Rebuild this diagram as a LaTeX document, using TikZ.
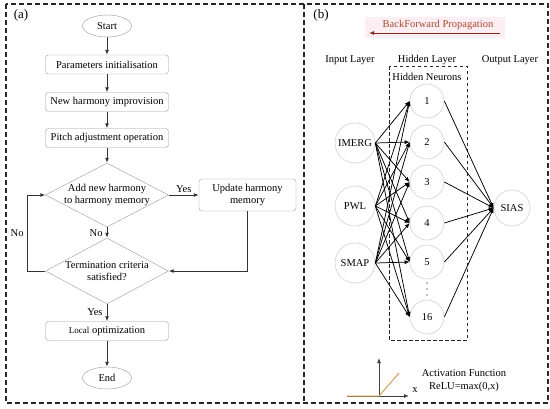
\documentclass[tikz,border=0pt]{standalone}
\usepackage{fontspec}
\setmainfont{Liberation Serif}
\usetikzlibrary{arrows.meta,shapes.geometric}
\definecolor{boxgray}{gray}{0.6}
\definecolor{circgray}{gray}{0.84}
\definecolor{bfred}{RGB}{165,75,45}
\definecolor{bfarrow}{RGB}{140,40,20}
\definecolor{bfpink}{RGB}{253,238,244}
\definecolor{relu}{RGB}{210,160,80}
\begin{document}
\begin{tikzpicture}[x=1pt,y=-1pt,
  font=\fontsize{10.5}{12}\selectfont,
  frame/.style={draw=black!85, line width=1.1pt, dash pattern=on 5pt off 3pt},
  panellabel/.style={font=\fontsize{13}{15}\selectfont},
  procbox/.style={draw=boxgray, rounded corners=3pt, minimum width=123pt, minimum height=19pt, inner sep=0pt, align=center},
  term/.style={ellipse, draw=boxgray, minimum width=49pt, minimum height=22pt, inner sep=0pt},
  decision/.style={diamond, draw=boxgray, aspect=2, inner sep=-4pt, minimum width=123pt, minimum height=64pt, align=center},
  arr/.style={draw=black!80, line width=0.9pt, -{Latex[length=5pt,width=4pt]}},
  neuron/.style={circle, draw=circgray, line width=0.7pt, minimum size=34pt, inner sep=0pt},
  inneuron/.style={circle, draw=circgray, line width=0.7pt, minimum size=40pt, inner sep=0pt},
  nnarr/.style={draw=black, line width=0.75pt, -{Latex[length=5pt,width=4pt]}},
  dotmark/.style={circle, fill=black!50, inner sep=0pt, minimum size=1.6pt}
]
\useasboundingbox (0,0) rectangle (550,408);

% frames
\draw[frame] (6,4) rectangle (548,403);
\draw[frame] (304,4) -- (304,403);
\node[panellabel] (la) at (21,15) {(a)};
\node[panellabel] (lb) at (321,15) {(b)};

% ---------- flowchart ----------
\node[term] (start) at (107,26) {Start};
\node[procbox] (p1) at (107,64.5) {Parameters initialisation};
\node[procbox] (p2) at (107,102) {New harmony improvision};
\node[procbox] (p3) at (107,138) {Pitch adjustment operation};
\node[decision] (d1) at (107,195) {Add new harmony\\to harmony memory};
\node[procbox, minimum width=97pt, minimum height=32pt] (upd) at (247.5,195) {Update harmony\\memory};
\node[decision, minimum height=66pt] (d2) at (107,271) {Termination criteria\\satisfied?};
\node[procbox] (p4) at (107,331) {{\fontsize{9}{11}\selectfont Local} optimization};
\node[term] (end) at (107,378) {End};
\coordinate (loopl) at (27,0);

\draw[arr] (start) -- (p1);
\draw[arr] (p1) -- (p2);
\draw[arr] (p2) -- (p3);
\draw[arr] (p3) -- (d1);
\draw[arr] (d1.east) -- node[above, inner sep=2pt] {Yes} (upd.west);
\draw[arr] (d1.south) -- node[left, pos=0.55, inner sep=4pt] {No} (d2.north);
\draw[arr] (upd.south) |- (d2.east);
\draw[arr] (d2.west) -- (d2.west -| loopl) -- node[left, inner sep=3pt] {No} (d1.west -| loopl) -- (d1.west);
\draw[arr] (d2.south) -- node[left, pos=0.45, inner sep=4pt] {Yes} (p4.north);
\draw[arr] (p4) -- (end);

% ---------- neural network ----------
\fill[bfpink] (365,17) rectangle (505,38);
\node[text=bfred] (bftext) at (438,24.5) {BackForward Propagation};
\coordinate (bfr) at (500,33);
\coordinate (bfl) at (369,33);
\draw[draw=bfarrow, line width=1pt, -{Latex[length=5pt,width=4pt]}] (bfr) -- (bfl);

\node (inl) at (350,60) {Input Layer};
\node (hidl) at (427,60) {Hidden Layer};
\node (outl) at (510,60) {Output Layer};
\draw[draw=black!85, line width=0.9pt, dash pattern=on 3.5pt off 2.5pt] (389,66) rectangle (467,340);
\node (hn) at (427,77) {Hidden Neurons};

\node[inneuron] (imerg) at (355,143) {IMERG};
\node[inneuron] (pwl) at (355,206) {PWL};
\node[inneuron] (smap) at (355,263) {SMAP};

\node[neuron] (h1) at (427,101) {1};
\node[neuron] (h2) at (427,142) {2};
\node[neuron] (h3) at (427,182) {3};
\node[neuron] (h4) at (427,223) {4};
\node[neuron] (h5) at (427,262) {5};
\node[neuron] (h16) at (427,317) {16};
\node[dotmark] (dt1) at (427,283) {};
\node[dotmark] (dt2) at (427,289) {};
\node[dotmark] (dt3) at (427,295) {};

\node[neuron, minimum size=36pt] (sias) at (512,208) {SIAS};

\foreach \i in {imerg,pwl,smap}{
  \foreach \h in {h1,h2,h3,h4,h5,h16}{
    \draw[nnarr] (\i.east) -- (\h.west);
  }
}
\foreach \h in {h1,h2,h3,h4,h5,h16}{
  \draw[nnarr] (\h.east) -- (sias.west);
}

% activation function
\coordinate (ax0) at (379,396);
\coordinate (axt) at (379,358);
\coordinate (axl) at (347,396);
\coordinate (axr) at (409,396);
\coordinate (rl) at (399,373);
\draw[draw=black!75, line width=0.8pt, -{Latex[length=5pt,width=4pt]}] (ax0) -- (axt);
\draw[draw=black!75, line width=0.8pt, -{Latex[length=5pt,width=4pt]}] (axl) -- (axr);
\draw[draw=relu, line width=1pt] (axl) -- (ax0) -- (rl);
\node (xl) at (415,390) {x};
\node (af1) at (464,373) {Activation Function};
\node (af2) at (464,386.5) {ReLU=max(0,x)};
\end{tikzpicture}
\end{document}
